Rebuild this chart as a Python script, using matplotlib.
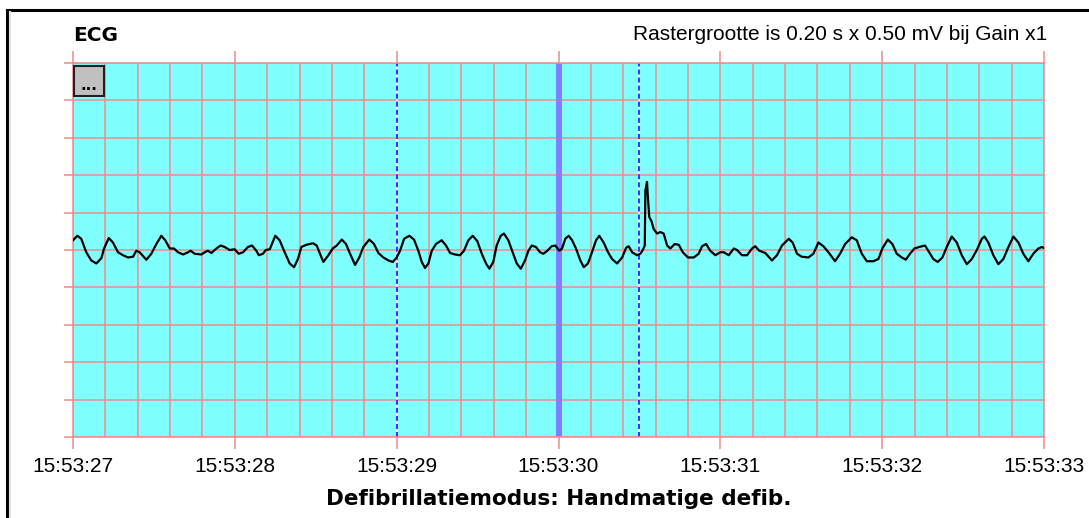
import numpy as np
import matplotlib
matplotlib.use("Agg")
import matplotlib.pyplot as plt
from matplotlib.lines import Line2D
from matplotlib.patches import Rectangle

t_sec = [0.000, 0.027, 0.051, 0.082, 0.113, 0.144, 0.175, 0.192, 0.221, 0.247,
         0.278, 0.309, 0.340, 0.371, 0.391, 0.412, 0.453, 0.484, 0.515, 0.546,
         0.570, 0.598, 0.624, 0.649, 0.680, 0.711, 0.727, 0.752, 0.793, 0.814,
         0.834, 0.855, 0.886, 0.913, 0.937, 0.968, 0.999, 1.024, 1.051, 1.081,
         1.106, 1.133, 1.148, 1.174, 1.191, 1.216, 1.250, 1.277, 1.308, 1.339,
         1.366, 1.390, 1.411, 1.442, 1.483,
         1.506, 1.526, 1.547, 1.578, 1.605, 1.630, 1.661, 1.687, 1.712, 1.743,
         1.769, 1.794, 1.831, 1.860, 1.887, 1.918, 1.949, 1.976, 2.000, 2.021,
         2.046, 2.078, 2.107, 2.134, 2.155, 2.175, 2.196, 2.217, 2.243, 2.278,
         2.305, 2.330, 2.361, 2.391, 2.416, 2.443, 2.470, 2.498, 2.526, 2.552,
         2.573, 2.597, 2.618, 2.643, 2.663, 2.690, 2.717, 2.742, 2.767, 2.793,
         2.814, 2.835, 2.861, 2.886, 2.906, 2.931, 2.958, 2.980,
         3.005, 3.022, 3.042, 3.063, 3.084, 3.108, 3.135, 3.156, 3.182, 3.207,
         3.232, 3.252, 3.279, 3.306, 3.331, 3.362, 3.393, 3.418, 3.434, 3.455,
         3.485, 3.506, 3.521, 3.533, 3.537, 3.547, 3.553, 3.561, 3.574, 3.588,
         3.609, 3.629, 3.650, 3.671, 3.691, 3.718, 3.743, 3.768, 3.800, 3.836,
         3.866, 3.887, 3.912, 3.938, 3.969, 4.000, 4.021, 4.052, 4.083, 4.103,
         4.134, 4.165, 4.196, 4.216, 4.241, 4.278, 4.319, 4.350, 4.381, 4.423,
         4.447, 4.474,
         4.503, 4.544, 4.575, 4.606, 4.637, 4.668, 4.709, 4.740, 4.771, 4.812,
         4.843, 4.874, 4.905, 4.946, 4.977, 5.001, 5.035, 5.063, 5.090, 5.121,
         5.146, 5.172, 5.199, 5.228, 5.265, 5.285, 5.316, 5.343, 5.372, 5.399,
         5.430, 5.461, 5.492, 5.523, 5.554, 5.585, 5.616, 5.632, 5.656, 5.687,
         5.718, 5.749, 5.780, 5.811, 5.842, 5.872, 5.903, 5.934, 5.965, 5.986,
         5.996]
ecg_mv = [0.13, 0.19, 0.15, -0.03, -0.14, -0.18, -0.11, 0.02, 0.16, 0.10,
          -0.03, -0.07, -0.10, -0.09, -0.01, -0.03, -0.13, -0.05, 0.08, 0.19,
          0.13, 0.02, 0.02, -0.03, -0.06, -0.03, -0.01, -0.05, -0.06, -0.03,
          -0.01, -0.04, 0.02, 0.06, 0.04, 0.00, 0.01, -0.05, -0.03, 0.04,
          0.06, -0.01, -0.07, -0.05, 0.00, 0.01, 0.19, 0.13, -0.03, -0.18,
          -0.23, -0.12, 0.04, 0.07, 0.09,
          0.06, -0.05, -0.16, -0.07, 0.02, 0.06, 0.14, 0.08, -0.05, -0.20,
          -0.10, 0.04, 0.14, 0.08, -0.04, -0.10, -0.14, -0.16, -0.10, -0.01,
          0.15, 0.19, 0.14, -0.01, -0.16, -0.24, -0.18, -0.01, 0.08, 0.13,
          0.06, -0.04, -0.06, -0.07, -0.01, 0.13, 0.19, 0.12, -0.05, -0.18,
          -0.25, -0.16, 0.06, 0.19, 0.22, 0.13, -0.03, -0.18, -0.25, -0.14,
          -0.01, 0.06, 0.04, -0.03, -0.05, -0.01, 0.05, 0.06,
          -0.01, 0.02, 0.15, 0.19, 0.13, 0.02, -0.14, -0.23, -0.18, -0.03,
          0.13, 0.19, 0.10, -0.03, -0.12, -0.18, -0.10, 0.03, 0.05, -0.03,
          -0.07, -0.05, 0.00, 0.06, 0.80, 0.91, 0.68, 0.44, 0.39, 0.28,
          0.22, 0.24, 0.22, 0.06, 0.02, 0.08, 0.07, -0.03, -0.10, -0.10,
          -0.05, 0.05, 0.08, -0.01, -0.07, -0.03, -0.03, -0.07, 0.02, 0.00,
          -0.07, -0.07, 0.02, 0.05, -0.01, -0.04, -0.14, -0.07, 0.06, 0.15,
          0.10, -0.05,
          -0.09, -0.10, -0.05, 0.10, 0.05, -0.03, -0.15, -0.05, 0.08, 0.17,
          0.13, -0.05, -0.15, -0.15, -0.12, 0.02, 0.14, 0.08, -0.05, -0.10,
          -0.13, -0.05, 0.02, 0.04, 0.06, -0.01, -0.12, -0.16, -0.10, 0.04,
          0.18, 0.10, -0.07, -0.19, -0.12, 0.00, 0.15, 0.18, 0.10, -0.07,
          -0.19, -0.12, 0.04, 0.18, 0.10, -0.05, -0.15, -0.05, 0.02, 0.04,
          0.03]

tick_labels = ["15:53:27", "15:53:28", "15:53:29", "15:53:30",
               "15:53:31", "15:53:32", "15:53:33"]
event_marks = [2.0, 3.5]   # dashed blue markers
cursor_at = 3.0            # thick cursor line

W, H = 1089, 518
PINK = "#f08c8c"
plt.rcParams["lines.scale_dashes"] = False


def fx(x):
    return x / W


def fy(y):
    return 1 - y / H


fig = plt.figure(figsize=(W / 100, H / 100), dpi=100)
fig.patch.set_facecolor("white")
ax = fig.add_axes([fx(73), fy(437), fx(1044) - fx(73), fy(63) - fy(437)])
ax.set_facecolor("#80ffff")
ax.set_xlim(0, 6)
ax.set_ylim(-2.5, 2.5)

# 0.2 s x 0.5 mV raster
ax.set_xticks(range(7))
ax.set_xticklabels(tick_labels, fontsize=15, family="Liberation Sans")
ax.set_xticks(np.arange(0, 6.01, 0.2), minor=True)
ax.set_yticks(np.arange(-2.5, 2.51, 0.5))
ax.set_yticklabels([])
ax.grid(True, which="both", color=PINK, lw=1.1, zorder=0.5)
ax.set_axisbelow(True)
ax.tick_params(axis="x", which="major", length=8.6, width=1.1, color=PINK,
               top=True, direction="out", pad=5.5)
ax.tick_params(axis="x", which="minor", length=0)
ax.tick_params(axis="y", length=6.5, width=1.1, color=PINK, direction="out")
for s in ax.spines.values():
    s.set_color(PINK)
    s.set_linewidth(1.1)

for m in event_marks:
    ax.axvline(m, color="white", lw=1.1, zorder=1)
    ax.axvline(m, color="#0000ff", lw=1.1, dashes=(3.6, 2.2), zorder=1.1)
ax.axvline(cursor_at, color="#8080ff", lw=4.3, zorder=1.2)

ax.plot(t_sec, ecg_mv, color="black", lw=1.6, zorder=3)

# "..." button in the corner of the strip
fig.patches.append(Rectangle((fx(74), fy(96)), fx(104) - fx(74), fy(66) - fy(96),
                             transform=fig.transFigure, facecolor="#c0c0c0",
                             edgecolor="#202020", lw=1.5, zorder=5))
fig.text(fx(89), fy(86), "...", ha="center", va="center", fontsize=11,
         fontweight="bold", zorder=6)

fig.text(fx(73), fy(41), "ECG", ha="left", va="baseline", fontsize=14.5,
         fontweight="bold", family="DejaVu Sans")
fig.text(fx(1047), fy(40), "Rastergrootte is 0.20 s x 0.50 mV bij Gain x1",
         ha="right", va="baseline", fontsize=15, family="Liberation Sans")
fig.text(fx(558.5), fy(505), "Defibrillatiemodus: Handmatige defib.",
         ha="center", va="baseline", fontsize=15.5, fontweight="bold",
         family="DejaVu Sans")

# window frame
fig.lines.append(Line2D([fx(7), fx(1089)], [fy(10), fy(10)], color="black",
                        lw=2.2, transform=fig.transFigure))
fig.lines.append(Line2D([fx(7), fx(7)], [fy(10), fy(518)], color="black",
                        lw=2.2, transform=fig.transFigure))
fig.lines.append(Line2D([fx(10), fx(10)], [fy(12), fy(518)], color="#e4e4e4",
                        lw=1.5, transform=fig.transFigure))

fig.savefig("out.png", dpi=100)
